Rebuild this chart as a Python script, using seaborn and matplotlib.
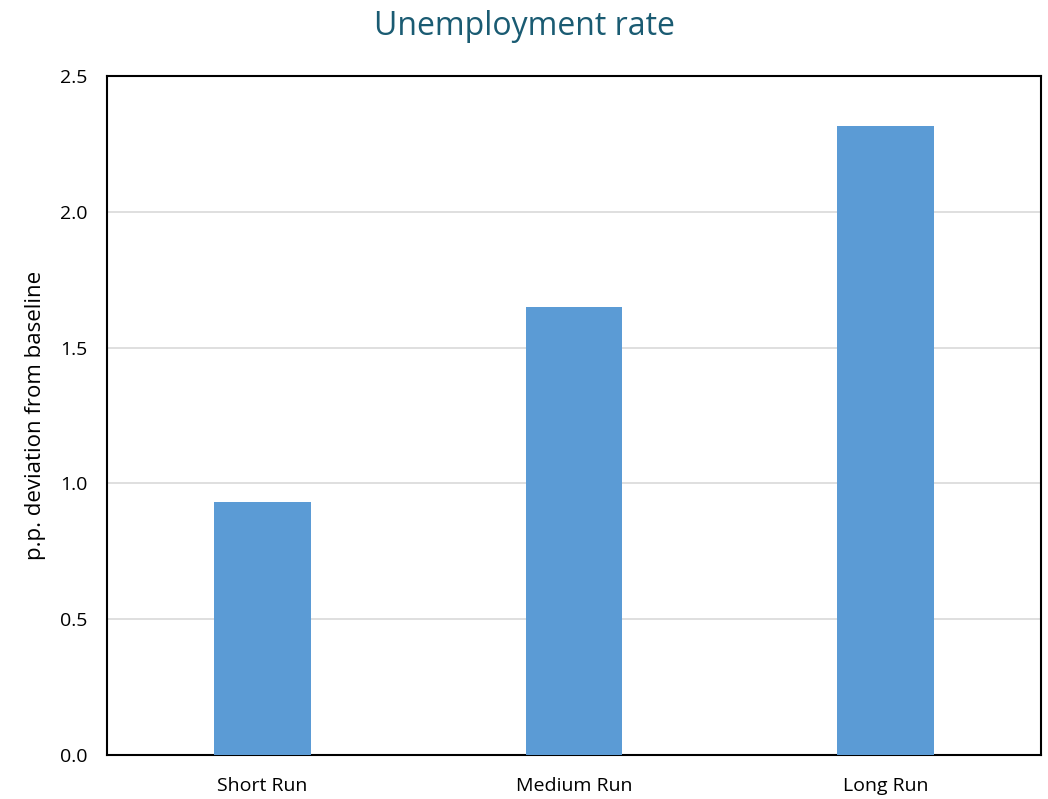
import matplotlib
matplotlib.use("Agg")
import matplotlib.pyplot as plt
import seaborn as sns
import pandas as pd

categories = ["Short Run", "Medium Run", "Long Run"]
values = [0.93, 1.65, 2.315]
yticks = [0.0, 0.5, 1.0, 1.5, 2.0, 2.5]
title = "Unemployment rate"
ylabel = "p.p. deviation from baseline"

sns.set_theme(style="white")
plt.rcParams['font.family'] = ['Open Sans', 'DejaVu Sans']
plt.rcParams['text.color'] = 'black'
plt.rcParams['axes.labelcolor'] = 'black'
plt.rcParams['xtick.color'] = 'black'
plt.rcParams['ytick.color'] = 'black'

df = pd.DataFrame({"cat": categories, "val": values})

fig = plt.figure(figsize=(10.48, 7.99), dpi=100)
ax = fig.add_axes([0.1021, 0.0551, 0.8912, 0.8498])
sns.barplot(data=df, x="cat", y="val", color="#5B9BD5", saturation=1, width=0.31,
            linewidth=0, edgecolor="none", ax=ax, zorder=3)
ax.set_ylim(0, 2.5)
ax.set_xlim(-0.5, 2.5)
ax.set_yticks(yticks)
ax.set_yticklabels([f"{t:.1f}" for t in yticks], fontsize=14)
ax.tick_params(axis="x", labelsize=14, length=0, pad=16, labelcolor="black")
ax.tick_params(axis="y", length=0, pad=14, labelcolor="black")
ax.yaxis.grid(True, color="#D9D9D9", linewidth=1.2, zorder=0)
ax.set_axisbelow(True)
for s in ax.spines.values():
    s.set_color("black")
    s.set_linewidth(1.5)
ax.set_xlabel("")
ax.set_ylabel(ylabel, fontsize=16, labelpad=10, color="black")
fig.suptitle(title, fontsize=23, color="#1A5B72", y=0.988)
fig.savefig("out.png", dpi=100)
